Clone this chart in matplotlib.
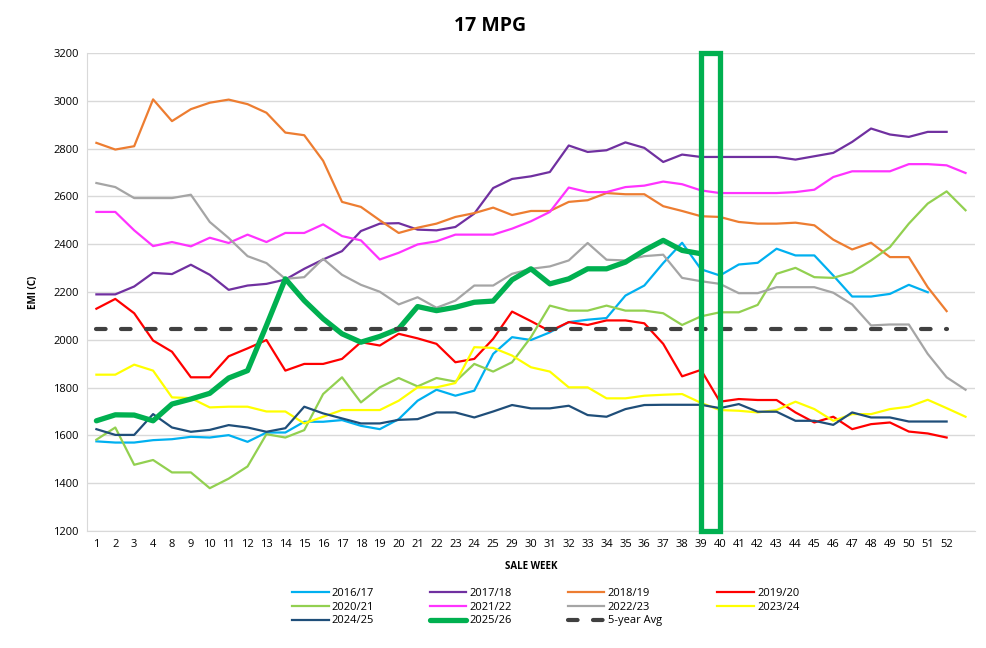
import numpy as np
import matplotlib
matplotlib.use("Agg")
import matplotlib.pyplot as plt
from matplotlib.patches import Rectangle

plt.rcParams['font.family'] = ['Open Sans', 'DejaVu Sans']

nan = np.nan

# sale weeks (last category has no label)
weeks = ["1", "2", "3", "4", "8", "9", "10", "11", "12", "13", "14", "15", "16", "17",
         "18", "19", "20", "21", "22", "23", "24", "25", "29", "30", "31", "32", "33",
         "34", "35", "36", "37", "38", "39", "40", "41", "42", "43", "44", "45", "46",
         "47", "48", "49", "50", "51", "52", ""]

s2016 = [1575, 1570, 1570, 1580, 1584, 1594, 1591, 1601, 1573, 1612, 1612, 1657, 1657, 1664, 1640, 1626,
         1668, 1745, 1791, 1766, 1787, 1941, 2011, 1999, 2031, 2074, 2084, 2091, 2185, 2227, 2321, 2406,
         2295, 2269, 2315, 2322, 2381, 2353, 2353, 2269, 2181, 2181, 2192, 2230, 2199, nan, nan]
s2017 = [2190, 2190, 2223, 2280, 2275, 2314, 2272, 2209, 2227, 2234, 2252, 2297, 2336, 2371, 2455, 2486,
         2488, 2461, 2458, 2472, 2528, 2635, 2673, 2684, 2702, 2813, 2786, 2793, 2826, 2803, 2744, 2775,
         2765, 2765, 2765, 2765, 2765, 2754, 2768, 2782, 2828, 2884, 2859, 2849, 2870, 2870, nan]
s2018 = [2824, 2796, 2810, 3006, 2915, 2965, 2992, 3005, 2986, 2950, 2867, 2856, 2749, 2577, 2556, 2500,
         2447, 2469, 2486, 2514, 2530, 2553, 2522, 2539, 2539, 2577, 2584, 2614, 2609, 2609, 2559, 2539,
         2517, 2514, 2493, 2486, 2486, 2490, 2479, 2419, 2378, 2406, 2346, 2346, 2220, 2120, nan]
s2019 = [2130, 2171, 2111, 1997, 1950, 1843, 1843, 1931, 1964, 1999, 1871, 1899, 1899, 1920, 1990, 1976,
         2025, 2006, 1983, 1906, 1920, 2004, 2118, 2078, 2036, 2074, 2062, 2081, 2081, 2069, 1983, 1847,
         1874, 1741, 1752, 1748, 1748, 1696, 1654, 1678, 1626, 1647, 1654, 1616, 1608, 1591, nan]
s2020 = [1582, 1633, 1477, 1497, 1445, 1445, 1379, 1419, 1470, 1605, 1591, 1622, 1773, 1843, 1738, 1801,
         1840, 1805, 1840, 1825, 1899, 1867, 1906, 2011, 2143, 2122, 2122, 2143, 2122, 2122, 2111, 2062,
         2098, 2115, 2115, 2146, 2276, 2301, 2262, 2259, 2283, 2332, 2388, 2486, 2570, 2621, 2542]
s2021 = [2535, 2535, 2458, 2392, 2409, 2391, 2427, 2405, 2440, 2409, 2447, 2447, 2483, 2434, 2416, 2336,
         2364, 2399, 2412, 2440, 2440, 2440, 2465, 2496, 2535, 2637, 2618, 2618, 2639, 2645, 2662, 2651,
         2625, 2614, 2614, 2614, 2614, 2618, 2628, 2681, 2705, 2705, 2705, 2735, 2735, 2730, 2698]
s2022 = [2656, 2639, 2593, 2593, 2593, 2607, 2493, 2426, 2350, 2321, 2255, 2262, 2339, 2272, 2230, 2201,
         2148, 2178, 2134, 2164, 2227, 2227, 2276, 2297, 2307, 2332, 2405, 2335, 2332, 2350, 2356, 2259,
         2245, 2234, 2195, 2195, 2220, 2220, 2220, 2197, 2148, 2060, 2064, 2064, 1941, 1843, 1791]
s2023 = [1854, 1854, 1896, 1871, 1759, 1756, 1717, 1720, 1720, 1700, 1700, 1650, 1678, 1706, 1706, 1706,
         1745, 1801, 1801, 1819, 1969, 1966, 1934, 1885, 1867, 1801, 1801, 1755, 1755, 1766, 1770, 1773,
         1736, 1706, 1703, 1696, 1706, 1741, 1710, 1661, 1689, 1689, 1710, 1720, 1749, 1714, 1678]
s2024 = [1626, 1602, 1602, 1689, 1633, 1615, 1623, 1643, 1633, 1615, 1630, 1720, 1692, 1671, 1650, 1650,
         1665, 1668, 1696, 1696, 1675, 1700, 1727, 1713, 1713, 1724, 1685, 1678, 1710, 1727, 1728, 1728,
         1728, 1714, 1731, 1699, 1699, 1661, 1661, 1644, 1696, 1675, 1675, 1658, 1658, 1658, nan]
s2025 = [1661, 1686, 1685, 1661, 1731, 1752, 1776, 1840, 1871, 2060, 2255, 2164, 2088, 2025, 1990, 2014,
         2046, 2139, 2122, 2136, 2157, 2162, 2251, 2297, 2234, 2255, 2297, 2297, 2325, 2374, 2416, 2374,
         2360] + [nan] * 14
avg5 = [2045] * 46 + [nan]

highlight_weeks = ["39", "40"]

series = [
    ("2016/17", s2016, "#00B0F0"),
    ("2017/18", s2017, "#7030A0"),
    ("2018/19", s2018, "#ED7D31"),
    ("2019/20", s2019, "#FF0000"),
    ("2020/21", s2020, "#92D050"),
    ("2021/22", s2021, "#FF33FF"),
    ("2022/23", s2022, "#A5A5A5"),
    ("2023/24", s2023, "#FFFF00"),
    ("2024/25", s2024, "#1F4E79"),
]

fig = plt.figure(figsize=(9.87, 6.48), dpi=100)
ax = fig.add_axes([0.0881, 0.1806, 0.8997, 0.7376])

x = np.arange(len(weeks))
handles = []
for name, vals, col in series:
    h, = ax.plot(x, vals, color=col, lw=1.6, label=name)
    handles.append(h)
h, = ax.plot(x, s2025, color="#00B050", lw=3.8, label="2025/26", solid_capstyle="round")
handles.append(h)
h, = ax.plot(x, avg5, color="#404040", lw=3.0, label="5-year Avg",
             linestyle=(0, (2.3, 3.7)), dash_capstyle="round")
handles.append(h)

# highlight box around the current week
i0 = weeks.index(highlight_weeks[0])
i1 = weeks.index(highlight_weeks[1])
ax.add_patch(Rectangle((i0, 1200), i1 - i0, 2000, fill=False,
                       edgecolor="#00B050", lw=3.8, zorder=5, clip_on=False))

ax.set_xlim(-0.5, len(weeks) - 0.5)
ax.set_ylim(1200, 3200)
ax.set_yticks(np.arange(1200, 3201, 200))
ax.set_xticks(x)
ax.set_xticklabels(weeks)
ax.tick_params(axis="both", length=0, labelsize=8, colors="#000000", pad=6)
ax.grid(axis="y", color="#D9D9D9", lw=1)
ax.set_axisbelow(True)
for sp in ["top", "right"]:
    ax.spines[sp].set_visible(False)
ax.spines["left"].set_color("#D9D9D9")
ax.spines["bottom"].set_color("#D9D9D9")

ax.set_xlabel("SALE WEEK", fontsize=7, fontweight="bold", labelpad=8)
ax.set_ylabel("EMI (C)", fontsize=7, fontweight="bold", labelpad=10)
fig.suptitle("17 MPG", fontsize=14, fontweight="bold", x=0.497, y=0.975)

# legend laid out row by row, like the source
order = [0, 4, 8, 1, 5, 9, 2, 6, 10, 3, 7]
fig.legend([handles[i] for i in order], [handles[i].get_label() for i in order],
           loc="center", bbox_to_anchor=(0.553, 0.063), ncol=4, frameon=False,
           fontsize=8, handlelength=3.3, columnspacing=5.0, labelspacing=0.25,
           handletextpad=0.3)

fig.savefig("out.png", dpi=100)
